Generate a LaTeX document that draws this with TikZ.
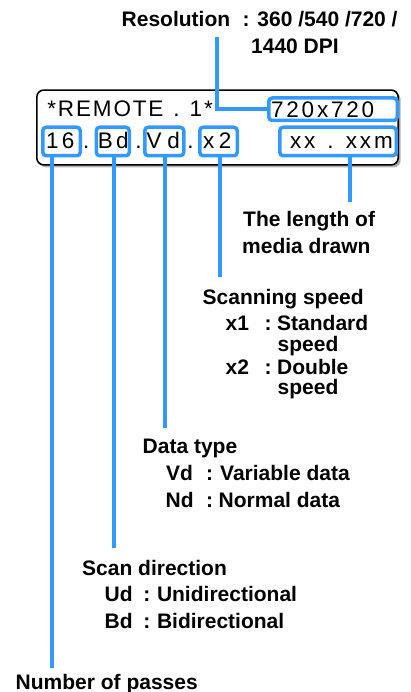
\documentclass[tikz,border=0pt]{standalone}
\usepackage{fontspec}
\setmainfont{Liberation Sans}
\newfontfamily\lcdfont{Liberation Sans}
\usetikzlibrary{shadows}
\definecolor{lcdblue}{RGB}{51,153,255}
\def\lspx#1{\ifx\lspend#1\else#1\kern\lspamt\relax\expandafter\lspx\fi}
\newcommand\lsp[2]{\def\lspamt{#2}\lspx#1\lspend\kern-#2\relax}
\tikzset{
  field/.style={draw=lcdblue, line width=3.5pt, rounded corners=3.5pt, inner sep=0pt},
  conn/.style={draw=lcdblue, line width=4pt},
  lcd/.style={inner sep=0pt, anchor=base west, font=\lcdfont\fontsize{22.5}{24}\selectfont},
  lbl/.style={inner sep=0pt, anchor=base west, font=\bfseries\fontsize{21}{24}\selectfont},
}
\begin{document}
\begin{tikzpicture}[x=1pt,y=-1pt]
\useasboundingbox (0,0) rectangle (411,692);
% display
\node[draw=black, line width=1.6pt, fill=white, rounded corners=7pt, inner sep=0pt,
      minimum width=361.4pt, minimum height=74.8pt,
      drop shadow={shadow xshift=2.5pt, shadow yshift=-2.5pt, fill=gray!60, opacity=1}]
      (display) at (217.5,127.5) {};
% fields
\node[field, minimum width=128.5pt, minimum height=22.5pt] (f720) at (333,109.25) {};
\node[field, minimum width=37.5pt, minimum height=28.5pt] (f16) at (61.5,141.5) {};
\node[field, minimum width=33pt, minimum height=28.5pt] (fBd) at (112.75,141.5) {};
\node[field, minimum width=39pt, minimum height=28.5pt] (fVd) at (164.25,141.5) {};
\node[field, minimum width=37.5pt, minimum height=28.5pt] (fx2) at (218.5,141.5) {};
\node[field, minimum width=116.5pt, minimum height=28.5pt] (fxx) at (338,141.5) {};
% display texts
\node[lcd] (tRem) at (47.2,117) {\lsp{*REMOTE~.~1*}{1.85pt}};
\node[lcd] (t720) at (270.9,117.5) {\lsp{720x720}{2.8pt}};
\node[lcd] (t16) at (45.8,148.3) {\lsp{16}{3.5pt}};
\node[lcd] (d1) at (82.9,148.3) {.};
\node[lcd] (tBd) at (97.6,148.3) {\lsp{Bd}{3.2pt}};
\node[lcd] (d2) at (135.2,148.3) {.};
\node[lcd] (tVd) at (146.5,148.3) {\lsp{Vd}{5.8pt}};
\node[lcd] (d3) at (187.2,148.3) {.};
\node[lcd] (tx2) at (202.8,148.3) {\lsp{x2}{4.5pt}};
\node[lcd] (txx) at (289.8,148.3) {\lsp{xx~.~xxm}{2.9pt}};
% labels
\node[lbl] (resA) at (121.5,26.8) {Resolution};
\node[lbl] (resB) at (242.5,26.8) {: 360 /540 /720 /};
\node[lbl] (resC) at (251,54) {1440 DPI};
\node[lbl] (lenA) at (243,226.7) {The length of};
\node[lbl] (lenB) at (242,253.3) {media drawn};
\node[lbl] (spdA) at (202.5,304) {Scanning speed};
\node[lbl] (spdB) at (225.5,330.7) {x1};
\node[lbl] (spdC) at (264.5,330.7) {:};
\node[lbl] (spdD) at (277,330.7) {Standard};
\node[lbl] (spdE) at (277.5,351.7) {speed};
\node[lbl] (spdF) at (225.5,374) {x2};
\node[lbl] (spdG) at (264.5,374) {:};
\node[lbl] (spdH) at (277,374) {Double};
\node[lbl] (spdI) at (277.5,394.3) {speed};
\node[lbl] (dtA) at (142.5,453.3) {Data type};
\node[lbl] (dtB) at (166,480.7) {Vd};
\node[lbl] (dtC) at (205.8,480.7) {:};
\node[lbl] (dtD) at (220,480.7) {Variable data};
\node[lbl] (dtE) at (165.5,507.7) {Nd};
\node[lbl] (dtF) at (205.8,507.7) {:};
\node[lbl] (dtG) at (218.5,507.7) {Normal data};
\node[lbl] (sdA) at (82,575) {Scan direction};
\node[lbl] (sdB) at (104.5,601.7) {Ud};
\node[lbl] (sdC) at (143.2,601.7) {:};
\node[lbl] (sdD) at (156.8,601.7) {Unidirectional};
\node[lbl] (sdE) at (104.5,628.3) {Bd};
\node[lbl] (sdF) at (143.2,628.3) {:};
\node[lbl] (sdG) at (156.8,628.3) {Bidirectional};
\node[lbl] (npA) at (15.5,689.3) {Number of passes};
% connector ends
\coordinate (r0) at (217.3,37.3);
\coordinate (eXX) at (350,202);
\coordinate (eX2) at (220,277);
\coordinate (eVd) at (165.3,428.3);
\coordinate (eBd) at (113.5,548.3);
\coordinate (e16) at (51.7,667.7);
% connectors
\draw[conn] (r0) |- (f720.west);
\draw[conn] (fxx.south -| eXX) -- (eXX);
\draw[conn] (fx2.south -| eX2) -- (eX2);
\draw[conn] (fVd.south -| eVd) -- (eVd);
\draw[conn] (fBd.south -| eBd) -- (eBd);
\draw[conn] (f16.south -| e16) -- (e16);
\end{tikzpicture}
\end{document}
